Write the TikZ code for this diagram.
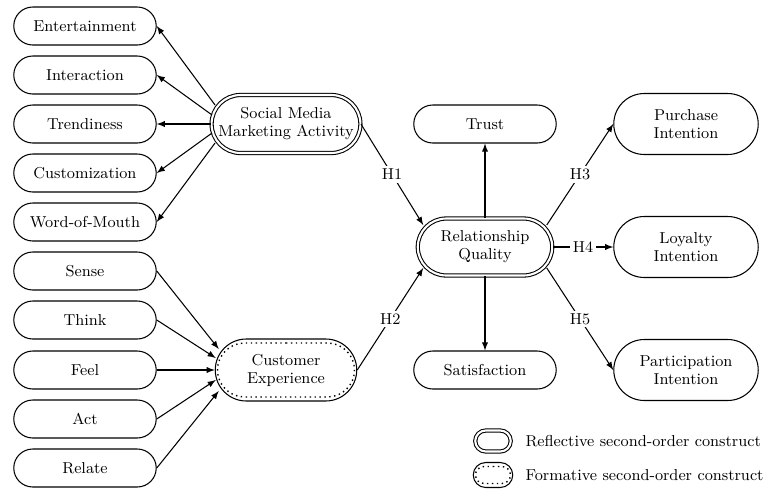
\documentclass[tikz,border=0pt]{standalone}
\usetikzlibrary{shapes.misc,arrows}
\begin{document}
\begin{tikzpicture}[x=0.02cm,y=-0.02cm,line width=0.6pt,
  font=\fontsize{9}{10.2}\selectfont,
  item/.style={draw, rounded rectangle, minimum width=2.92cm, minimum height=0.76cm, inner sep=1pt, align=center},
  construct/.style={draw, rounded rectangle, minimum width=2.9cm, minimum height=1.24cm, inner sep=1pt, align=center},
  reflective/.style={construct, double, double distance=1.2pt, minimum width=2.82cm, minimum height=1.16cm},
  dotline/.style={draw, rounded rectangle, dotted, line width=0.8pt, inner sep=0pt},
  link/.style={-latex},
  hyp/.style={fill=white, inner sep=1.5pt}
]

\useasboundingbox (0,0) rectangle (768,498);

\def \colx{85}

% first-order items, left column
\node[item] (ent) at (\colx, 26) {Entertainment};
\node[item] (inter) at (\colx, 75) {Interaction};
\node[item] (trend) at (\colx, 124) {Trendiness};
\node[item] (cust) at (\colx, 173) {Customization};
\node[item] (wom) at (\colx, 222) {Word-of-Mouth};
\node[item] (sense) at (\colx, 271) {Sense};
\node[item] (think) at (\colx, 320) {Think};
\node[item] (feel) at (\colx, 370) {Feel};
\node[item] (act) at (\colx, 419) {Act};
\node[item] (relate) at (\colx, 468) {Relate};

% second-order constructs
\node[reflective] (smma) at (286, 124) {Social Media\\Marketing Activity};
\node[construct] (ce) at (286, 370) {Customer\\Experience};
\node[dotline, minimum width=2.74cm, minimum height=1.08cm] (cein) at (286, 370) {};
\node[reflective, minimum width=2.76cm, minimum height=1.14cm] (rq) at (485, 247) {Relationship\\Quality};

\node[item] (trust) at (485, 124) {Trust};
\node[item] (sat) at (485, 370) {Satisfaction};

\node[construct, minimum width=2.96cm, minimum height=1.22cm] (pi) at (686, 124) {Purchase\\Intention};
\node[construct, minimum width=2.96cm, minimum height=1.22cm] (lo) at (686, 247) {Loyalty\\Intention};
\node[construct, minimum width=2.96cm, minimum height=1.22cm] (pa) at (686, 370) {Participation\\Intention};

% reflective and formative links
\foreach \n/\dx/\dy in {ent/4/-19, inter/1/-9, trend/0/0, cust/1/9, wom/4/19}{
\draw [link] ([shift={(\dx,\dy)}]smma.west) -- (\n.east);
}
\foreach \n/\dx/\dy in {sense/4/-21, think/1/-12, feel/0/0, act/1/10, relate/4/21}{
\draw [link] (\n.east) -- ([shift={(\dx,\dy)}]ce.west);
}
\draw [link] (rq.north) -- (trust.south);
\draw [link] (rq.south) -- (sat.north);

% hypotheses
\draw [link] (smma.east) -- node[hyp] (h1) {H1} ([shift={(6,-22)}]rq.west);
\draw [link] (ce.east) -- node[hyp] (h2) {H2} ([shift={(6,21)}]rq.west);
\draw [link] ([shift={(-6,-22)}]rq.east) -- node[hyp] (h3) {H3} (pi.west);
\draw [link] (rq.east) -- node[hyp] (h4) {H4} (lo.west);
\draw [link] ([shift={(-6,21)}]rq.east) -- node[hyp] (h5) {H5} (pa.west);

% legend
\node[reflective, minimum width=0.78cm, minimum height=0.42cm] (legr) at (493, 441) {};
\node[anchor=west, inner sep=0pt] (legrtxt) at (525, 441) {Reflective second-order construct};
\node[construct, minimum width=0.86cm, minimum height=0.5cm] (legf) at (493, 475) {};
\node[dotline, minimum width=0.7cm, minimum height=0.34cm] (legfin) at (493, 475) {};
\node[anchor=west, inner sep=0pt] (legftxt) at (525, 475) {Formative second-order construct};

\end{tikzpicture}
\end{document}
